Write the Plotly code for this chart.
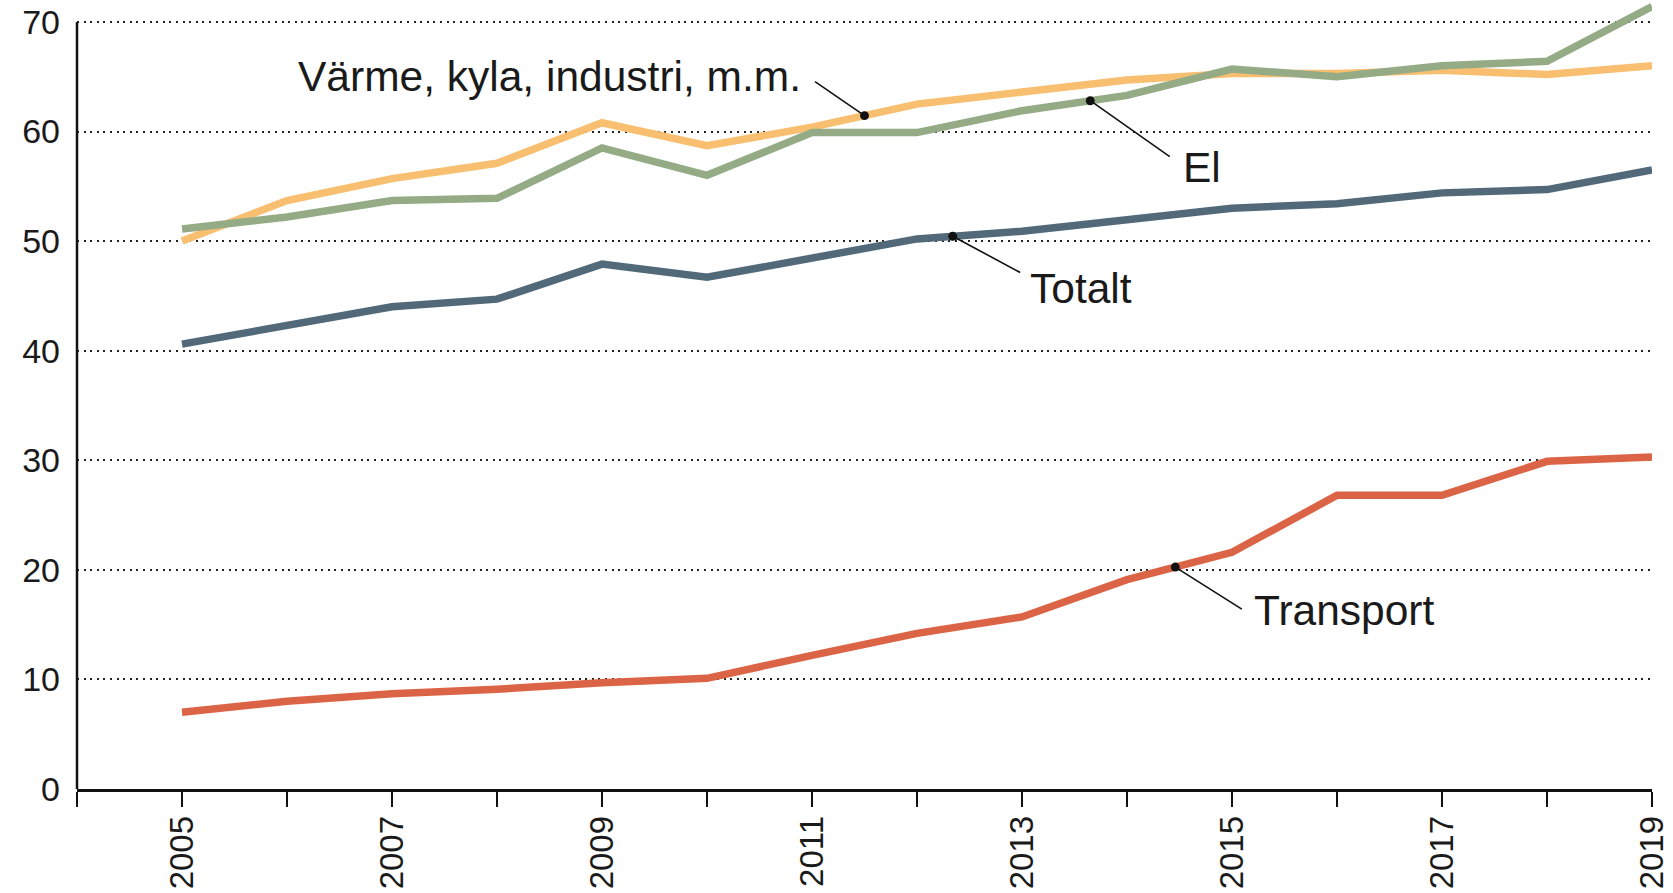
import numpy as np
import plotly.graph_objects as go

years = list(range(2005, 2020))
varme = [50.0, 53.7, 55.7, 57.1, 60.8, 58.7, 60.4, 62.5, 63.6, 64.7, 65.3, 65.3, 65.6, 65.2, 66.0]
el = [51.1, 52.2, 53.7, 53.9, 58.5, 56.0, 59.9, 59.9, 61.9, 63.3, 65.7, 65.0, 66.0, 66.4, 71.4]
totalt = [40.6, 42.3, 44.0, 44.7, 47.9, 46.7, 48.5, 50.2, 50.9, 52.0, 53.0, 53.4, 54.4, 54.7, 56.5]
transport = [7.0, 8.0, 8.7, 9.1, 9.7, 10.1, 12.2, 14.2, 15.7, 19.1, 21.6, 26.8, 26.8, 29.9, 30.3]

series = [
    ("Värme, kyla, industri, m.m.", varme, "#F9BF71"),
    ("El", el, "#94AB86"),
    ("Totalt", totalt, "#52697A"),
    ("Transport", transport, "#DC6446"),
]

tick_years = list(range(2004, 2020))
tick_text = [str(y) if y % 2 == 1 else "" for y in tick_years]
y_ticks = [0, 10, 20, 30, 40, 50, 60, 70]

YMAX = 72
FONT = "Liberation Sans, Arial, Helvetica, sans-serif"

fig = go.Figure()
for name, vals, color in series:
    fig.add_trace(go.Scatter(x=years, y=vals, mode="lines", name=name,
                             line=dict(color=color, width=7.5, shape="linear"),
                             hoverinfo="skip"))

# labels: (text, dot year, series values, ax, ay, text x, text y, anchor)
labels = [
    ("Värme, kyla, industri, m.m.", 2011.5, varme, -51, -35, 2010.91, 65.0, "right"),
    ("El", 2013.65, el, 81, 57, 2014.51, 56.7, "left"),
    ("Totalt", 2012.34, totalt, 69, 37, 2013.06, 45.7, "left"),
    ("Transport", 2014.46, transport, 68, 43, 2015.19, 16.3, "left"),
]
for text, dx, vals, ax, ay, tx, ty, anc in labels:
    dy = float(np.interp(dx, years, vals))
    fig.add_annotation(x=dx, y=dy, text="", showarrow=True, arrowhead=6,
                       arrowsize=1.4, arrowwidth=1.6, arrowcolor="#111",
                       ax=ax, ay=ay, standoff=0, startstandoff=0)
    fig.add_annotation(x=tx, y=ty, text=text, showarrow=False, xanchor=anc,
                       yanchor="middle", font=dict(size=42.5, color="#1a1a1a", family=FONT))

# y axis line from 0 to 70
fig.add_shape(type="line", xref="paper", yref="paper", x0=0, x1=0, y0=0, y1=70 / YMAX,
              line=dict(color="#111", width=2.5))

fig.update_layout(
    width=1673, height=893,
    margin=dict(l=77, r=21, t=0, b=104),
    paper_bgcolor="white", plot_bgcolor="white",
    showlegend=False,
    font=dict(family=FONT, size=34, color="#1a1a1a"),
    xaxis=dict(range=[2004, 2019], tickmode="array", tickvals=tick_years, ticktext=tick_text,
               tickangle=-90, ticks="outside", ticklen=15, tickwidth=2.2, tickcolor="#111",
               showline=True, linecolor="#111", linewidth=2.5, showgrid=False, zeroline=False,
               tickfont=dict(size=33), ticklabelstandoff=-4, automargin=False),
    yaxis=dict(range=[0, YMAX], tickmode="array", tickvals=y_ticks, showline=False,
               ticks="", showgrid=True, gridcolor="#222", gridwidth=1.6, griddash="2px,4.6px",
               zeroline=False, tickfont=dict(size=34), ticklabelstandoff=16, automargin=False),
)

fig.write_html("out.html", config={"displayModeBar": False},
               post_script="document.body.style.margin='0';document.body.style.overflow='hidden';")
